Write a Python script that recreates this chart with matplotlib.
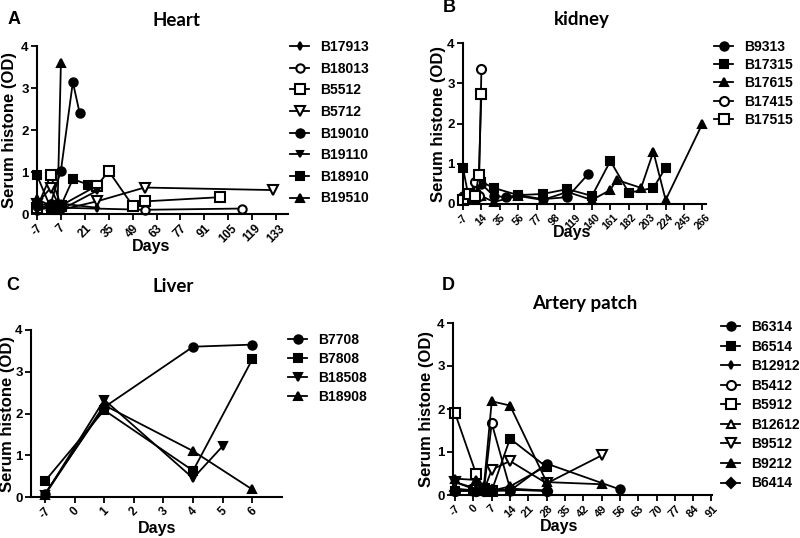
import matplotlib
matplotlib.use("Agg")
import matplotlib.pyplot as plt

plt.rcParams['font.family'] = ['Liberation Sans', 'DejaVu Sans']
plt.rcParams['font.weight'] = 'bold'

# ---------------- Panel A: Heart ----------------
heart_names = ["B17913", "B18013", "B5512", "B5712", "B19010", "B19110", "B18910", "B19510"]
heart_days = [
    [-7, 0, 3, 7, 28],
    [-7, 1, 7, 56, 113],
    [-7, 1, 7, 28, 35, 49, 56, 100],
    [-7, 1, 7, 28, 56, 131],
    [-7, 1, 7, 14, 18],
    [-7, 1, 7, 28],
    [-7, 1, 7, 14, 23],
    [-7, 1, 5, 7],
]
heart_vals = [
    [0.2, 0.15, 0.2, 0.25, 0.15],
    [0.1, 0.25, 0.15, 0.1, 0.13],
    [0.15, 0.92, 0.2, 0.67, 1.02, 0.2, 0.3, 0.4],
    [0.25, 0.62, 0.1, 0.3, 0.63, 0.57],
    [0.2, 0.25, 1.03, 3.14, 2.4],
    [0.1, 0.15, 0.1, 0.55],
    [0.92, 0.15, 0.2, 0.83, 0.7],
    [0.35, 0.2, 0.1, 3.6],
]
heart_ticks = [-7, 7, 21, 35, 49, 63, 77, 91, 105, 119, 133]

# ---------------- Panel B: kidney ----------------
kidney_names = ["B9313", "B17315", "B17615", "B17415", "B17515"]
kidney_days = [
    [-7, 0, 7, 14, 28, 42, 56, 84, 112, 136],
    [-7, 0, 7, 14, 28, 56, 84, 112, 140, 161, 182, 210, 224],
    [-7, 0, 7, 14, 28, 56, 84, 112, 140, 161, 168, 196, 210, 224, 266],
    [-7, 0, 7, 11, 14],
    [-7, 0, 7, 11, 14],
]
kidney_vals = [
    [0.2, 0.15, 0.2, 0.5, 0.2, 0.17, 0.22, 0.12, 0.17, 0.75],
    [0.9, 0.1, 0.2, 0.55, 0.4, 0.22, 0.25, 0.37, 0.2, 1.07, 0.28, 0.4, 0.9],
    [0.1, 0.2, 0.15, 0.2, 0.05, 0.2, 0.1, 0.3, 0.1, 0.35, 0.6, 0.4, 1.3, 0.1, 2.0],
    [0.15, 0.2, 0.55, 0.2, 3.36],
    [0.1, 0.25, 0.2, 0.72, 2.74],
]
kidney_ticks = [-7, 14, 35, 56, 77, 98, 119, 140, 161, 182, 203, 224, 245, 266]

# ---------------- Panel C: Liver ----------------
liver_names = ["B7708", "B7808", "B18508", "B18908"]
liver_cats = ["-7", "0", "1", "2", "3", "4", "5", "6"]
liver_days = [
    ["-7", "1", "4", "6"],
    ["-7", "1", "4", "6"],
    ["-7", "1", "4", "5"],
    ["-7", "1", "4", "6"],
]
liver_vals = [
    [0.08, 2.15, 3.6, 3.65],
    [0.38, 2.08, 0.63, 3.3],
    [0.05, 2.33, 0.45, 1.22],
    [0.05, 2.2, 1.1, 0.18],
]

# ---------------- Panel D: Artery patch ----------------
artery_names = ["B6314", "B6514", "B12912", "B5412", "B5912", "B12612", "B9512", "B9212", "B6414"]
artery_days = [
    [-7, 0, 4, 7, 14, 28, 56],
    [-7, 0, 7, 14, 28],
    [-7, 1, 4, 7, 14, 28],
    [-7, 1, 4, 7, 14, 28],
    [-7, 1, 4, 7],
    [-7, 1, 4, 7, 14, 28],
    [-7, 1, 4, 7, 14, 28, 49],
    [-7, 1, 4, 7, 14, 28, 49],
    [-7, 1, 4, 7, 14, 28],
]
artery_vals = [
    [0.1, 0.1, 0.1, 0.1, 0.1, 0.73, 0.13],
    [0.1, 0.12, 0.1, 1.31, 0.65],
    [0.3, 0.15, 0.1, 0.1, 0.2, 0.68],
    [0.1, 0.1, 0.1, 1.67, 0.15, 0.1],
    [1.9, 0.5, 0.15, 0.1],
    [0.15, 0.1, 0.15, 0.1, 0.12, 0.1],
    [0.3, 0.12, 0.1, 0.59, 0.79, 0.27, 0.92],
    [0.38, 0.35, 0.2, 2.18, 2.08, 0.3, 0.25],
    [0.1, 0.1, 0.1, 0.12, 0.12, 0.1],
]
artery_ticks = [-7, 0, 7, 14, 21, 28, 35, 42, 49, 56, 63, 70, 77, 84, 91]

# marker styles: (marker, filled, size)
heart_style = [("d", True, 4), ("o", False, 6), ("s", False, 6.5), ("v", False, 6.5),
               ("o", True, 6), ("v", True, 5), ("s", True, 6), ("^", True, 5.5)]
kidney_style = [("o", True, 6), ("s", True, 6), ("^", True, 5.5), ("o", False, 6.5), ("s", False, 6.5)]
liver_style = [("o", True, 6), ("s", True, 6), ("v", True, 6), ("^", True, 5.5)]
artery_style = [("o", True, 6), ("s", True, 6), ("d", True, 4), ("o", False, 6.5), ("s", False, 6.5),
                ("^", False, 6), ("v", False, 6.5), ("^", True, 5.5), ("D", True, 5.5)]

W, H = 800, 538
fig = plt.figure(figsize=(8, 5.38), dpi=100)


def rect(l, r, b, t):
    return [l / W, 1 - b / H, (r - l) / W, (b - t) / H]


def ftext(x, y, s, **kw):
    return fig.text(x / W, 1 - y / H, s, ha="center", va="center", fontweight="bold", **kw)


def style_axes(ax, ylab_x, xlab_x, xlab_y):
    for s in ["top", "right"]:
        ax.spines[s].set_visible(False)
    for s in ["left", "bottom"]:
        ax.spines[s].set_linewidth(1.5)
    ax.tick_params(axis="both", direction="out", length=4, width=1.3, labelsize=9.5, pad=2)
    ax.set_ylim(0, 4)
    ax.set_yticks([0, 1, 2, 3, 4])
    for lab in ax.get_yticklabels():
        lab.set_fontweight("bold")
    pos = ax.get_position()
    yc = (1 - (pos.y0 + pos.height / 2)) * H
    ftext(ylab_x, yc, "Serum histone (OD)", rotation=90, fontsize=12)
    ftext(xlab_x, xlab_y, "Days", fontsize=11.5)


def set_xticks(ax, pos, labels, size=8.5):
    ax.set_xticks(pos)
    ax.set_xticklabels(labels, rotation=45, ha="center", va="top",
                       fontweight="bold", fontsize=size)


def draw(ax, names, xs, ys, styles):
    handles = []
    for n, x, y, (m, filled, ms) in zip(names, xs, ys, styles):
        h, = ax.plot(x, y, color="black", lw=1.3, marker=m, markersize=ms,
                     markerfacecolor="black" if filled else "white",
                     markeredgecolor="black", markeredgewidth=1.5, label=n, clip_on=False)
        handles.append(h)
    return handles


def legend(handles, names, x, y, spacing):
    fig.legend(handles, names, loc="upper left", bbox_to_anchor=(x / W, 1 - y / H),
               frameon=False, handlelength=1.4, handletextpad=0.8,
               labelspacing=spacing, borderaxespad=0, borderpad=0,
               prop={"weight": "bold", "size": 10})


title_font = ["Lato", "DejaVu Sans"]

# Panel A
axA = fig.add_axes(rect(37, 288, 214, 46))
hA = draw(axA, heart_names, heart_days, heart_vals, heart_style)
axA.set_xlim(-7, 140)
style_axes(axA, 10, 151, 246)
set_xticks(axA, heart_ticks, [str(t) for t in heart_ticks])
legend(hA, heart_names, 290, 40, 0.55)
ftext(177, 20, "Heart", fontsize=13.5, family=title_font)
ftext(14, 20, "A", fontsize=13)

# Panel B
axB = fig.add_axes(rect(463, 706, 204, 43))
hB = draw(axB, kidney_names, kidney_days, kidney_vals, kidney_style)
axB.set_xlim(-7, 270)
style_axes(axB, 439, 572, 233)
set_xticks(axB, kidney_ticks, [str(t) for t in kidney_ticks], size=7.5)
legend(hB, kidney_names, 714, 40, 0.3)
ftext(582, 20, "kidney", fontsize=13.5, family=title_font)
ftext(449, 8, "B", fontsize=13)

# Panel C
axC = fig.add_axes(rect(31, 282, 497, 330))
cat_pos = {c: i for i, c in enumerate(liver_cats)}
liver_x = [[cat_pos[d] for d in ds] for ds in liver_days]
hC = draw(axC, liver_names, liver_x, liver_vals, liver_style)
axC.set_xlim(-0.47, 8.0)
style_axes(axC, 8, 157, 528)
set_xticks(axC, list(range(len(liver_cats))), liver_cats)
legend(hC, liver_names, 288, 333, 0.35)
ftext(173, 287, "Liver", fontsize=13.5, family=title_font)
ftext(13, 285, "C", fontsize=13)

# Panel D
axD = fig.add_axes(rect(453, 712, 495, 323))
hD = draw(axD, artery_names, artery_days, artery_vals, artery_style)
axD.set_xlim(-7.8, 91.2)
style_axes(axD, 426, 559, 527)
set_xticks(axD, artery_ticks, [str(t) for t in artery_ticks], size=8)
legend(hD, artery_names, 721, 320, 0.4)
ftext(585, 303, "Artery patch", fontsize=13.5, family=title_font)
ftext(448, 285, "D", fontsize=13)

fig.savefig("out.png", dpi=100)
